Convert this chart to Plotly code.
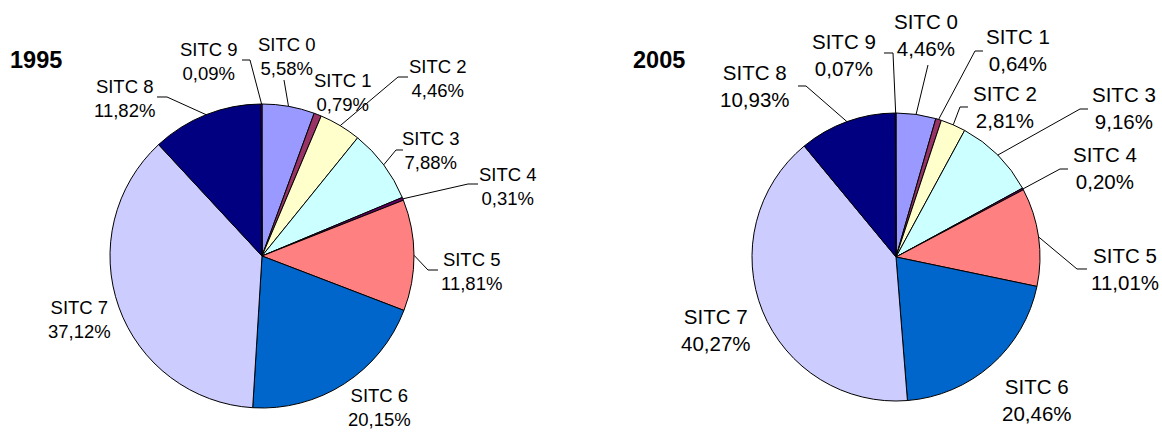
import plotly.graph_objects as go
import math

# SITC product groups, share of total (%)
groups = ['SITC 0', 'SITC 1', 'SITC 2', 'SITC 3', 'SITC 4',
          'SITC 5', 'SITC 6', 'SITC 7', 'SITC 8', 'SITC 9']
share_1995 = [5.58, 0.79, 4.46, 7.88, 0.31, 11.81, 20.15, 37.12, 11.82, 0.09]
share_2005 = [4.46, 0.64, 2.81, 9.16, 0.20, 11.01, 20.46, 40.27, 10.93, 0.07]

colors = ['#9999FF', '#993366', '#FFFFCC', '#CCFFFF', '#660066',
          '#FF8080', '#0066CC', '#CCCCFF', '#000080', '#FF00FF']

W, H = 1162, 432
FONT = 'Liberation Sans, Arial, sans-serif'

# pie geometry in pixels: centre x, centre y, radius
pies = [
    dict(year='1995', vals=share_1995, cx=262, cy=256, r=152, fs=18.5, title_x=36),
    dict(year='2005', vals=share_2005, cx=896, cy=257, r=144, fs=20.5, title_x=659),
]

# label placement (pixel centre of each 2-line label)
label_pos = {
    '1995': [(287, 56), (343, 92), (438, 79), (431, 151), (508, 186),
             (471, 271), (379, 407), (80, 319), (124, 98), (209, 61)],
    '2005': [(926, 35), (1018, 50), (1005, 107), (1124, 108), (1105, 168),
             (1125, 269), (1037, 400), (716, 330), (755, 86), (844, 55)],
}
# leader line elbow (pixel) and horizontal tail length, None = no line
leaders = {
    '1995': [((284, 80), 0), None, ((398, 77), 10), ((396, 150), 7), ((468, 184), 10),
             ((428, 270), 10), None, None, ((167, 97), -10), ((250, 60), -8)],
    '2005': [((928, 65), 0), ((975, 51), 8), ((960, 107), 8), ((1080, 109), 8), ((1060, 169), 8),
             ((1077, 269), 10), None, None, ((806, 86), -8), ((893, 53), -9)],
}


def px(x):
    return x / W


def py(y):
    return 1 - y / H


fig = go.Figure()
annotations = []
shapes = []

for p in pies:
    cx, cy, r = p['cx'], p['cy'], p['r']
    fig.add_trace(go.Pie(
        labels=groups, values=p['vals'], sort=False, direction='clockwise',
        rotation=0, textinfo='none', hoverinfo='label+percent',
        marker=dict(colors=colors, line=dict(color='black', width=1)),
        domain=dict(x=[px(cx - r), px(cx + r)], y=[py(cy + r), py(cy - r)]),
        showlegend=False,
    ))

    annotations.append(dict(
        text='<b>' + p['year'] + '</b>', x=px(p['title_x']), y=py(60),
        xref='paper', yref='paper', showarrow=False,
        xanchor='center', yanchor='middle',
        font=dict(family=FONT, size=23.5, color='black'),
    ))

    total = sum(p['vals'])
    cum = 0
    for i, v in enumerate(p['vals']):
        mid = (cum + v / 2) / total * 2 * math.pi
        cum += v
        lx, ly = label_pos[p['year']][i]
        annotations.append(dict(
            text=groups[i] + '<br>' + ('%.2f' % v).replace('.', ',') + '%',
            x=px(lx), y=py(ly), xref='paper', yref='paper', showarrow=False,
            xanchor='center', yanchor='middle', align='center',
            font=dict(family=FONT, size=p['fs'], color='black'),
        ))
        ld = leaders[p['year']][i]
        if ld is None:
            continue
        (ex, ey), tail = ld
        sx = cx + r * math.sin(mid)
        sy = cy - r * math.cos(mid)
        path = 'M %f,%f L %f,%f' % (px(sx), py(sy), px(ex), py(ey))
        if tail:
            path += ' L %f,%f' % (px(ex + tail), py(ey))
        shapes.append(dict(type='path', path=path, xref='paper', yref='paper',
                           line=dict(color='black', width=1)))

fig.update_layout(
    width=W, height=H,
    margin=dict(l=0, r=0, t=0, b=0),
    paper_bgcolor='white', plot_bgcolor='white',
    annotations=annotations, shapes=shapes,
)

# drop the browser's default body margin so the figure fills the window
fig.write_html('out.html', config={'displayModeBar': False},
               post_script="document.body.style.margin='0';document.body.style.overflow='hidden';")
